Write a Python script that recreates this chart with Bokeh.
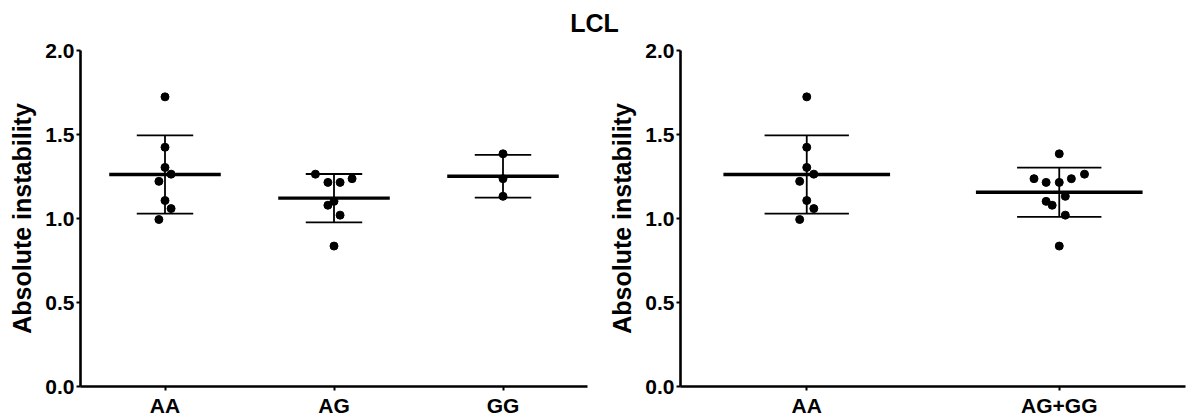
import numpy as np
from bokeh.plotting import figure
from bokeh.layouts import column, row
from bokeh.models import FixedTicker, NumeralTickFormatter, ColumnDataSource
from bokeh.core.properties import value
from bokeh.embed import file_html
from bokeh.resources import INLINE

# ---- data -------------------------------------------------------------
title_text = "LCL"
y_label = "Absolute instability"
y_ticks = [0.0, 0.5, 1.0, 1.5, 2.0]

left_groups = ["AA", "AG", "GG"]
right_groups = ["AA", "AG+GG"]

aa = [1.724, 1.424, 1.304, 1.264, 1.221, 1.107, 1.059, 0.994]
ag = [1.264, 1.215, 1.215, 1.237, 1.102, 1.079, 1.020, 0.836]
gg = [1.385, 1.237, 1.132]

# horizontal scatter of the dots inside each column (category units)
aa_jit_left = [0, 0, 0, 0.036, -0.036, 0, 0.036, -0.036]
ag_jit_left = [-0.11, -0.036, 0.036, 0.107, 0, -0.036, 0.036, 0]
gg_jit_left = [0, 0, 0]
aa_jit_right = [0, 0, 0, 0.028, -0.028, 0, 0.028, -0.028]
aggg_jit_right = [0.1, -0.052, 0, 0.048, -0.052, -0.028, 0.024, 0,
                  0, -0.1, 0.024]

FONT = "Liberation Sans"
HEAD_H = 38


def panel(groups, series, jitters, width, border_right):
    p = figure(width=width, height=419 - HEAD_H,
               x_range=(-0.5, len(groups) - 0.5),
               y_range=(0, 2.0), output_backend="svg", toolbar_location=None,
               min_border_left=80, min_border_right=border_right,
               min_border_top=50 - HEAD_H, min_border_bottom=31)
    p.outline_line_color = None
    p.grid.grid_line_color = None
    p.background_fill_color = "white"
    p.border_fill_color = "white"

    for i, (vals, jit) in enumerate(zip(series, jitters)):
        vals = np.asarray(vals, dtype=float)
        mean = vals.mean()
        sd = vals.std(ddof=1)
        # mean line, SD whisker and caps
        p.segment(x0=[i - 0.33], x1=[i + 0.33], y0=[mean], y1=[mean],
                  line_color="black", line_width=3.4)
        p.segment(x0=[i], x1=[i], y0=[mean - sd], y1=[mean + sd],
                  line_color="black", line_width=1.8)
        p.segment(x0=[i - 0.167, i - 0.167], x1=[i + 0.167, i + 0.167],
                  y0=[mean - sd, mean + sd], y1=[mean - sd, mean + sd],
                  line_color="black", line_width=1.8)
        src = ColumnDataSource(dict(x=[i + j for j in jit], y=list(vals)))
        p.scatter("x", "y", source=src, size=8, fill_color="black",
                  line_color="black")

    for ax in (p.xaxis[0], p.yaxis[0]):
        ax.axis_line_width = 2.6
        ax.axis_line_color = "black"
        ax.major_tick_line_width = 2
        ax.major_tick_line_color = "black"
        ax.major_tick_in = 0
        ax.major_tick_out = 4
        ax.minor_tick_line_color = None
        ax.major_label_text_font = FONT
        ax.major_label_text_font_style = "bold"
        ax.major_label_text_font_size = "21px"
        ax.major_label_text_color = "black"

    p.yaxis.ticker = FixedTicker(ticks=y_ticks)
    p.yaxis.formatter = NumeralTickFormatter(format="0.0")
    p.yaxis.major_label_standoff = 2
    p.yaxis.axis_label = y_label
    p.yaxis.axis_label_text_font = FONT
    p.yaxis.axis_label_text_font_style = "bold"
    p.yaxis.axis_label_text_font_size = "25px"
    p.yaxis.axis_label_text_color = "black"
    p.yaxis.axis_label_standoff = 6

    p.xaxis.ticker = FixedTicker(ticks=list(range(len(groups))))
    p.xaxis.major_label_overrides = {i: g for i, g in enumerate(groups)}
    p.xaxis.major_label_standoff = 3
    return p


left = panel(left_groups, [aa, ag, gg],
             [aa_jit_left, ag_jit_left, gg_jit_left], 600, 13)
right = panel(right_groups, [aa, ag + gg],
              [aa_jit_right, aggg_jit_right], 586, 1)

head = figure(width=1186, height=HEAD_H, x_range=(0, 1186), y_range=(0, HEAD_H),
              output_backend="svg", toolbar_location=None,
              x_axis_type=None, y_axis_type=None, min_border=0)
head.outline_line_color = None
head.grid.grid_line_color = None
head.text(x=[594], y=[HEAD_H - 22], text=[title_text], text_font=value(FONT),
          text_font_style="bold", text_font_size="25px",
          text_align="center", text_baseline="middle", text_color="black")

layout = column(head, row(left, right, spacing=0), spacing=0)
open("out.html", "w").write(file_html(layout, INLINE))
